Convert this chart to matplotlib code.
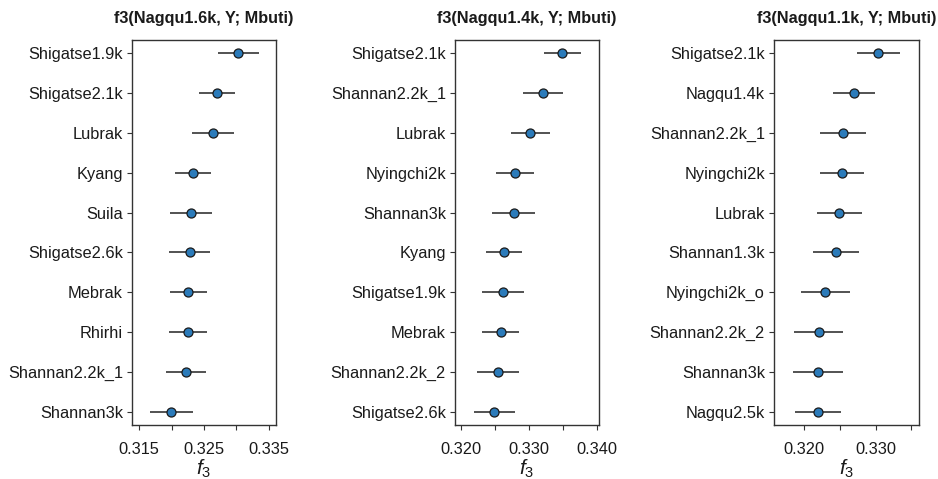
import matplotlib
matplotlib.use("Agg")
import matplotlib.pyplot as plt
from matplotlib.ticker import MultipleLocator, FuncFormatter

plt.rcParams['font.family'] = ['Liberation Sans', 'DejaVu Sans']
plt.rcParams['mathtext.fontset'] = 'custom'
plt.rcParams['mathtext.it'] = 'Liberation Sans:italic'
plt.rcParams['mathtext.rm'] = 'Liberation Sans'

# Panel 1: f3(Nagqu1.6k, Y; Mbuti)
title_1 = "f3(Nagqu1.6k, Y; Mbuti)"
pops_1 = ["Shigatse1.9k", "Shigatse2.1k", "Lubrak", "Kyang", "Suila",
          "Shigatse2.6k", "Mebrak", "Rhirhi", "Shannan2.2k_1", "Shannan3k"]
f3_1 = [0.3303, 0.3270, 0.32635, 0.3233, 0.3230,
        0.3228, 0.32259, 0.32254, 0.32228, 0.31995]
se_1 = [0.0032, 0.00284, 0.0032, 0.00276, 0.0033,
        0.00315, 0.0028, 0.0029, 0.0031, 0.0033]

# Panel 2: f3(Nagqu1.4k, Y; Mbuti)
title_2 = "f3(Nagqu1.4k, Y; Mbuti)"
pops_2 = ["Shigatse2.1k", "Shannan2.2k_1", "Lubrak", "Nyingchi2k", "Shannan3k",
          "Kyang", "Shigatse1.9k", "Mebrak", "Shannan2.2k_2", "Shigatse2.6k"]
f3_2 = [0.33493, 0.3321, 0.33024, 0.32795, 0.32776,
        0.32639, 0.32624, 0.32585, 0.32551, 0.32493]
se_2 = [0.00268, 0.00293, 0.00283, 0.00283, 0.00315,
        0.00268, 0.00307, 0.00273, 0.00305, 0.0030]

# Panel 3: f3(Nagqu1.1k, Y; Mbuti)
title_3 = "f3(Nagqu1.1k, Y; Mbuti)"
pops_3 = ["Shigatse2.1k", "Nagqu1.4k", "Shannan2.2k_1", "Nyingchi2k", "Lubrak",
          "Shannan1.3k", "Nyingchi2k_o", "Shannan2.2k_2", "Shannan3k", "Nagqu2.5k"]
f3_3 = [0.33037, 0.32692, 0.32542, 0.32523, 0.32491,
        0.32444, 0.32294, 0.32201, 0.32192, 0.32187]
se_3 = [0.00297, 0.00294, 0.00318, 0.00308, 0.00318,
        0.0032, 0.00346, 0.00346, 0.00348, 0.0032]

panels = [
    (title_1, pops_1, f3_1, se_1, (0.3139, 0.3361), [0.315, 0.325, 0.335]),
    (title_2, pops_2, f3_2, se_2, (0.31917, 0.3403), [0.320, 0.330, 0.340]),
    (title_3, pops_3, f3_3, se_3, (0.31575, 0.33607), [0.320, 0.330]),
]

W, H = 938, 479
fig = plt.figure(figsize=(W / 100, H / 100), dpi=100)
axes_px = [(132, 276), (455, 599), (774, 919)]
top_px, bottom_px = 40, 425

for (title, pops, vals, errs, xlim, labelled), (l, r) in zip(panels, axes_px):
    ax = fig.add_axes([l / W, 1 - bottom_px / H, (r - l) / W, (bottom_px - top_px) / H])
    ypos = list(range(len(pops)))
    ax.errorbar(vals, ypos, xerr=errs, fmt='o', color='#444444',
                ecolor='#444444', elinewidth=1.3, capsize=0,
                markerfacecolor='#2b7bba', markeredgecolor='#1a1a1a',
                markeredgewidth=0.9, markersize=6.5, zorder=3)
    ax.set_yticks(ypos)
    ax.set_yticklabels(pops)
    ax.set_ylim(len(pops) - 1 + 0.335, -0.335)
    ax.set_xlim(*xlim)
    ax.xaxis.set_major_locator(MultipleLocator(0.005))
    lab = [round(v, 3) for v in labelled]
    ax.xaxis.set_major_formatter(FuncFormatter(
        lambda v, p, lab=lab: f"{v:.3f}" if round(v, 3) in lab else ""))
    ax.tick_params(axis='both', direction='out', length=3.5, width=0.8,
                   colors='#333333', labelcolor='#1a1a1a', labelsize=11.8)
    ax.tick_params(axis='y', pad=3)
    ax.tick_params(axis='x', pad=9)
    for s in ax.spines.values():
        s.set_color('#333333')
        s.set_linewidth(1.0)
    ax.set_title(title, fontsize=11.7, fontweight='bold', pad=12, color='#1a1a1a')
    ax.set_xlabel(r'$f_3$', fontsize=15, labelpad=0, color='#1a1a1a')

fig.savefig("out.png", dpi=100)
